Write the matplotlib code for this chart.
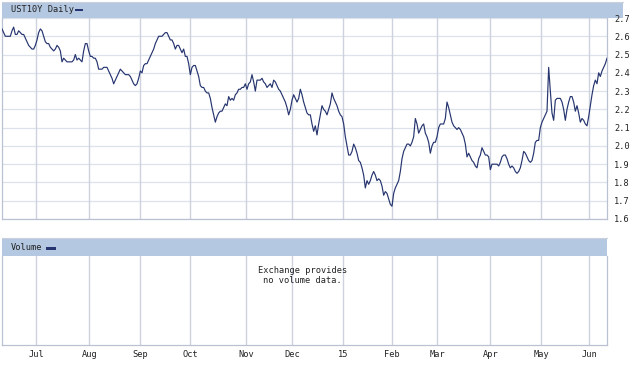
import matplotlib
matplotlib.use("Agg")
import matplotlib.pyplot as plt
import numpy as np
from matplotlib.patches import Rectangle

# ---------------- data ----------------
title_text = "UST10Y Daily"
volume_title = "Volume"
no_volume_lines = ["Exchange provides", "no volume data."]

# daily-ish yield readings (evenly spaced samples across the chart)
yield_part1 = [
    2.64, 2.62, 2.60, 2.60, 2.60, 2.60, 2.63, 2.65, 2.61, 2.61,
    2.63, 2.62, 2.61, 2.61, 2.59, 2.57, 2.55, 2.54, 2.53, 2.53,
    2.55, 2.58, 2.62, 2.64, 2.63, 2.60, 2.57, 2.56, 2.56, 2.54,
    2.53, 2.52, 2.53, 2.55, 2.54, 2.52, 2.46, 2.48, 2.47, 2.46,
    2.46, 2.46, 2.46, 2.47, 2.50, 2.47, 2.48, 2.47, 2.46, 2.52,
    2.56, 2.56, 2.52, 2.49, 2.49, 2.48, 2.48, 2.46, 2.42, 2.42,
    2.42, 2.43, 2.43, 2.43, 2.41, 2.39, 2.37, 2.34, 2.36, 2.38,
    2.40, 2.42, 2.41, 2.40, 2.39, 2.39, 2.39, 2.38, 2.36, 2.34,
    2.33, 2.34, 2.37, 2.41, 2.40, 2.44, 2.45, 2.45, 2.47,
]
yield_part2 = [
    2.49, 2.51, 2.53, 2.56, 2.58, 2.60, 2.60, 2.60, 2.61, 2.62,
    2.62, 2.60, 2.58, 2.58, 2.56, 2.53, 2.55, 2.55, 2.53, 2.51,
    2.53, 2.49, 2.49, 2.45, 2.39, 2.43, 2.44, 2.44, 2.41, 2.38,
    2.33, 2.32, 2.32, 2.30, 2.29, 2.29, 2.26, 2.21, 2.17, 2.13,
    2.16, 2.18, 2.19, 2.19, 2.21, 2.23, 2.22, 2.27, 2.25, 2.26,
    2.25, 2.28, 2.29, 2.31, 2.31, 2.32, 2.32, 2.34, 2.31, 2.34,
    2.35, 2.39, 2.35, 2.30, 2.36, 2.36, 2.36, 2.37, 2.35, 2.34,
    2.32, 2.33, 2.34, 2.32, 2.36, 2.35, 2.33, 2.31, 2.30, 2.28,
    2.26, 2.24, 2.21, 2.17, 2.20, 2.25, 2.28, 2.26, 2.24, 2.26,
]
yield_part3 = [
    2.31, 2.28, 2.24, 2.21, 2.18, 2.17, 2.17, 2.12, 2.08, 2.11,
    2.06, 2.12, 2.17, 2.22, 2.20, 2.19, 2.17, 2.20, 2.23, 2.29,
    2.26, 2.24, 2.22, 2.19, 2.17, 2.16, 2.12, 2.05, 2.00, 1.95,
    1.95, 1.97, 2.01, 1.99, 1.96, 1.92, 1.91, 1.88, 1.84, 1.77,
    1.81, 1.79, 1.81, 1.84, 1.86, 1.84, 1.81, 1.82, 1.81, 1.78,
    1.73, 1.75, 1.74, 1.71, 1.68, 1.67, 1.74, 1.77, 1.79, 1.81,
    1.86, 1.93, 1.97, 1.99, 2.01, 2.01, 2.00, 2.02, 2.05, 2.15,
    2.12, 2.07, 2.09, 2.11, 2.12, 2.07, 2.05, 2.02, 1.96, 2.00,
    2.02, 2.02, 2.05, 2.10, 2.12, 2.12, 2.12, 2.15, 2.24, 2.21,
]
yield_part4 = [
    2.17, 2.13, 2.11, 2.10, 2.09, 2.10, 2.09, 2.07, 2.05, 2.01,
    1.94, 1.96, 1.94, 1.92, 1.91, 1.89, 1.88, 1.93, 1.95, 1.99,
    1.97, 1.95, 1.95, 1.94, 1.87, 1.90, 1.90, 1.90, 1.90, 1.89,
    1.91, 1.94, 1.95, 1.95, 1.93, 1.90, 1.88, 1.89, 1.88, 1.86,
    1.85, 1.86, 1.88, 1.92, 1.97, 1.96, 1.94, 1.92, 1.91, 1.92,
    1.96, 2.02, 2.03, 2.03, 2.10, 2.13, 2.15, 2.17, 2.19, 2.43,
    2.30, 2.18, 2.14, 2.25, 2.26, 2.26, 2.26, 2.24, 2.20, 2.14,
    2.20, 2.24, 2.27, 2.27, 2.24, 2.19, 2.22, 2.18, 2.13, 2.15,
    2.14, 2.12, 2.11, 2.16, 2.22, 2.28, 2.33, 2.36, 2.34, 2.40,
    2.38, 2.41, 2.43, 2.45, 2.48,
]
yields = yield_part1 + yield_part2 + yield_part3 + yield_part4

month_labels = ["Jul", "Aug", "Sep", "Oct", "Nov", "Dec", "15",
                "Feb", "Mar", "Apr", "May", "Jun"]
month_pos = [20.6, 52.4, 83.0, 113.0, 146.6, 174.2, 204.8,
             234.2, 261.2, 293.0, 323.6, 352.4]
y_ticks = [1.6, 1.7, 1.8, 1.9, 2.0, 2.1, 2.2, 2.3, 2.4, 2.5, 2.6, 2.7]

# ---------------- style ----------------
W, H = 640, 365
FONT = "DejaVu Sans Mono"
FS = 6.2
LINE_C = "#26356f"
BAND_C = "#b4c8e1"
GRID_H = "#dde1ea"
GRID_V = "#cdd2de"
FRAME_C = "#b9c1d3"
TEXT_C = "#222222"

fig = plt.figure(figsize=(W / 100, H / 100), dpi=100, facecolor="white")


def px_axes(x0, y0, x1, y1, **kw):
    return fig.add_axes([x0 / W, 1 - y1 / H, (x1 - x0) / W, (y1 - y0) / H], **kw)


def band(x0, y0, x1, y1, label, key_w, key_h):
    hb = px_axes(x0, y0, x1, y1)
    hb.set_facecolor(BAND_C)
    hb.set_xticks([])
    hb.set_yticks([])
    for s in hb.spines.values():
        s.set_visible(False)
    hb.spines["top"].set_visible(True)
    hb.spines["top"].set_color("#c9cfdc")
    t = hb.text(9 / (x1 - x0), 0.5, label, transform=hb.transAxes,
                ha="left", va="center", fontsize=FS, family=FONT, color=TEXT_C)
    return hb


x = np.arange(len(yields))
xmin, xmax = 0, 363

# --- top price panel ---
band(2, 2, 623, 18, title_text, 0, 0)
fig.add_artist(Rectangle((75 / W, 1 - 11 / H), 8 / W, 2.2 / H,
                         transform=fig.transFigure, color=LINE_C, lw=0))

ax = px_axes(2, 18, 607, 219)
ax.set_xlim(xmin, xmax)
ax.set_ylim(1.6, 2.7)
ax.set_yticks(y_ticks)
ax.set_yticklabels([f"{v:.1f}" for v in y_ticks], family=FONT, fontsize=FS, color=TEXT_C)
ax.yaxis.tick_right()
ax.tick_params(axis="y", length=0, pad=5)
ax.set_xticks([])
for v in y_ticks:
    ax.axhline(v, color=GRID_H, lw=0.9, zorder=0)
for p in month_pos:
    ax.axvline(p, color=GRID_V, lw=1.0, zorder=0)
for s in ax.spines.values():
    s.set_color(FRAME_C)
    s.set_linewidth(0.9)
ax.spines["top"].set_visible(False)
ax.plot(x, yields, color=LINE_C, lw=0.85, zorder=3)

# --- volume panel ---
band(2, 238, 607, 256, volume_title, 0, 0)
fig.add_artist(Rectangle((45.5 / W, 1 - 250 / H), 10 / W, 3.5 / H,
                         transform=fig.transFigure, color=LINE_C, lw=0))

av = px_axes(2, 256, 607, 345)
av.set_xlim(xmin, xmax)
av.set_ylim(0, 1)
av.set_yticks([])
av.set_xticks(month_pos)
av.set_xticklabels(month_labels, family=FONT, fontsize=FS, color=TEXT_C)
av.tick_params(axis="x", length=0, pad=3.5)
for p in month_pos:
    av.axvline(p, color=GRID_V, lw=1.0, zorder=0)
for s in av.spines.values():
    s.set_color(FRAME_C)
    s.set_linewidth(0.9)
av.spines["top"].set_visible(False)
av.text(0.497, 0.835, no_volume_lines[0], transform=av.transAxes, ha="center",
        va="center", family=FONT, fontsize=FS, color=TEXT_C)
av.text(0.497, 0.722, no_volume_lines[1], transform=av.transAxes, ha="center",
        va="center", family=FONT, fontsize=FS, color=TEXT_C)

fig.savefig("out.png", dpi=100, facecolor="white")
